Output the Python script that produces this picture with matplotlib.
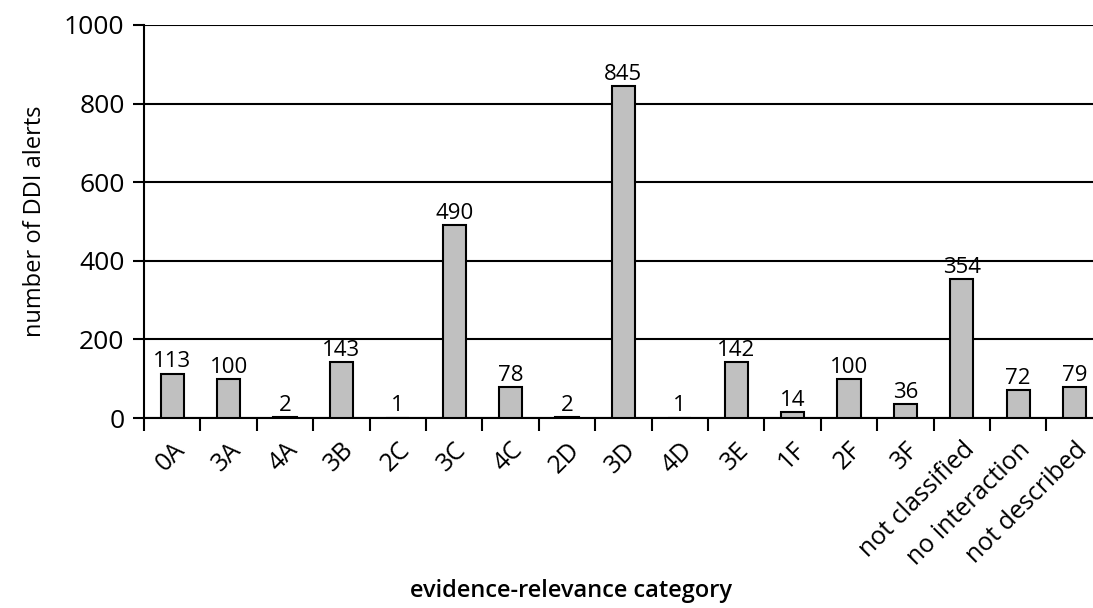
import numpy as np
import matplotlib.pyplot as plt
from matplotlib.ticker import FixedLocator, NullFormatter

# evidence-relevance categories and alert counts
categories = ['0A', '3A', '4A', '3B', '2C', '3C', '4C', '2D', '3D', '4D',
              '3E', '1F', '2F', '3F', 'not classified', 'no interaction',
              'not described']
counts = [113, 100, 2, 143, 1, 490, 78, 2, 845, 1, 142, 14, 100, 36, 354, 72, 79]

plt.rcParams['font.family'] = ['Open Sans', 'DejaVu Sans']

W, H = 1093, 608
fig = plt.figure(figsize=(W / 100, H / 100), dpi=100)
ax = fig.add_axes([144 / W, 190 / H, 1 - 144 / W, 393 / H])

x = np.arange(len(categories))
bars = ax.bar(x, counts, width=0.41, color='#c0c0c0', edgecolor='black',
              linewidth=1.5, zorder=3)
for xi, v in zip(x, counts):
    ax.text(xi, v + 3, str(v), ha='center', va='bottom', fontsize=16, zorder=4)

ax.set_ylim(0, 1000)
ax.set_yticks(range(0, 1001, 200))
ax.yaxis.grid(True, color='black', linewidth=1.5, zorder=0)
ax.tick_params(axis='y', length=8, width=1.5, labelsize=19, pad=6)

# ticks between the categories, labels centred under the bars
ax.set_xlim(-0.5, (W - 144) / 56.4 - 0.5)
ax.xaxis.set_major_locator(FixedLocator(np.arange(-0.5, len(categories), 1.0)))
ax.xaxis.set_major_formatter(NullFormatter())
ax.xaxis.set_minor_locator(FixedLocator(x))
ax.set_xticklabels(categories, minor=True, rotation=45, ha='right',
                   rotation_mode='anchor', fontsize=18)
ax.tick_params(axis='x', which='major', length=9, width=1.5)
ax.tick_params(axis='x', which='minor', length=0, pad=14)

for s in ['top', 'right']:
    ax.spines[s].set_visible(False)
ax.spines['left'].set_linewidth(1.5)
ax.spines['bottom'].set_linewidth(1.5)

ax.set_ylabel('number of DDI alerts', fontsize=17, labelpad=12)
fig.text(0.522, 0.018, 'evidence-relevance category', ha='center',
         fontsize=17, fontweight='semibold')

fig.savefig('out.png', dpi=100)
